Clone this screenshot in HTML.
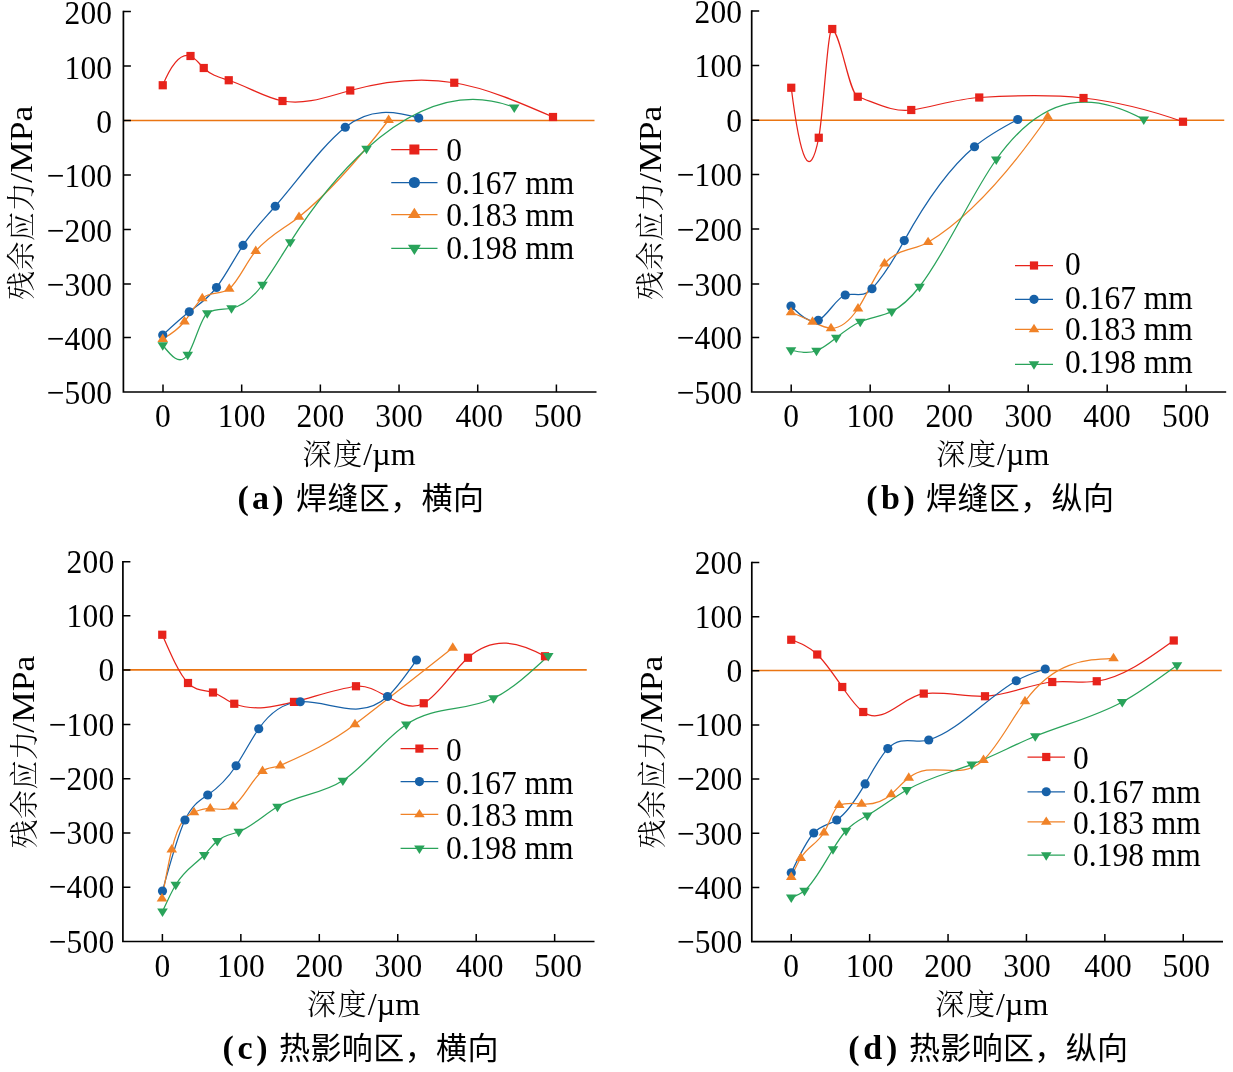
<!DOCTYPE html>
<html lang="zh"><head><meta charset="utf-8"><title>残余应力</title>
<style>
html,body{margin:0;padding:0;background:#fff;overflow:hidden}
svg{display:block;will-change:transform}
text{fill:#000}
.n{font-family:"Liberation Serif",serif;font-size:31.5px;letter-spacing:0.2px}
.tc{font-family:"Liberation Serif","Noto Serif CJK SC",serif;font-size:29px;font-weight:300;letter-spacing:0.5px}
.tcx{letter-spacing:1.6px}
.tl{font-family:"Liberation Serif",serif;font-size:32px}
.tl2{font-family:"Liberation Serif",serif;font-size:32px}
.c{font-size:31px}
.cb{font-family:"Liberation Serif",serif;font-weight:bold;font-size:34px}
.cc{font-family:"Liberation Sans","Noto Sans CJK SC",sans-serif;font-weight:400;font-size:31px}
</style></head><body>
<svg width="1233" height="1072" viewBox="0 0 1233 1072">
<rect width="1233" height="1072" fill="#fff"/>
<path d="M123.4 120.5H594.5" stroke="#ea7512" stroke-width="1.6" fill="none"/>
<path d="M162.75 85.25C172 63.05 181.25 52.61 190.5 56C194.92 57.62 199.33 63.73 203.75 68C212.08 76.05 220.42 77.54 228.75 80.25C246.67 86.08 264.58 97.59 282.5 101C305.08 105.3 327.67 96.72 350.25 90.5C384.92 80.95 419.58 76.94 454.25 82.75C487.17 88.27 520.08 102.63 553 117" stroke="#e7231b" stroke-width="1.25" fill="none"/>
<path d="M162.75 335C171.58 326.78 180.42 318.56 189.25 311.75C198.33 304.75 207.42 299.24 216.5 287.5C225.33 276.09 234.17 258.78 243 245.4C253.75 229.11 264.5 218.62 275.25 206.25C298.58 179.4 321.92 145.92 345.25 127.25C369.75 107.65 394.25 110.75 418.75 118.1" stroke="#1761a8" stroke-width="1.25" fill="none"/>
<path d="M162.75 339C170 334.8 177.25 330.61 184.5 321.5C190.42 314.07 196.33 303.36 202.25 298.25C211.25 290.48 220.25 295.67 229.25 288.75C238.08 281.96 246.92 261.16 255.75 251C270.17 234.42 284.58 228.43 299 216.9C328.87 193.01 358.73 158.95 388.6 120" stroke="#f08227" stroke-width="1.25" fill="none"/>
<path d="M162.75 345.25C171.08 355.79 179.42 366.33 187.75 354.75C194.25 345.72 200.75 317.8 207.25 313.25C215.33 307.59 223.42 309.87 231.5 308.25C241.83 306.18 252.17 298.71 262.5 284.75C271.75 272.25 281 256.66 290.25 242.1C315.67 202.11 341.08 171.62 366.5 148.75C415.75 104.43 465 87.8 514.25 107.5" stroke="#29a35a" stroke-width="1.25" fill="none"/>
<rect x="158.65" y="81.15" width="8.2" height="8.2" fill="#e7231b"/>
<rect x="186.4" y="51.9" width="8.2" height="8.2" fill="#e7231b"/>
<rect x="199.65" y="63.9" width="8.2" height="8.2" fill="#e7231b"/>
<rect x="224.65" y="76.15" width="8.2" height="8.2" fill="#e7231b"/>
<rect x="278.4" y="96.9" width="8.2" height="8.2" fill="#e7231b"/>
<rect x="346.15" y="86.4" width="8.2" height="8.2" fill="#e7231b"/>
<rect x="450.15" y="78.65" width="8.2" height="8.2" fill="#e7231b"/>
<rect x="548.9" y="112.9" width="8.2" height="8.2" fill="#e7231b"/>
<circle cx="162.75" cy="335" r="4.6" fill="#1761a8"/>
<circle cx="189.25" cy="311.75" r="4.6" fill="#1761a8"/>
<circle cx="216.5" cy="287.5" r="4.6" fill="#1761a8"/>
<circle cx="243" cy="245.4" r="4.6" fill="#1761a8"/>
<circle cx="275.25" cy="206.25" r="4.6" fill="#1761a8"/>
<circle cx="345.25" cy="127.25" r="4.6" fill="#1761a8"/>
<circle cx="418.75" cy="118.1" r="4.6" fill="#1761a8"/>
<path d="M162.75 333.5L168.05 341.9L157.45 341.9Z" fill="#f08227"/>
<path d="M184.5 316L189.8 324.4L179.2 324.4Z" fill="#f08227"/>
<path d="M202.25 292.75L207.55 301.15L196.95 301.15Z" fill="#f08227"/>
<path d="M229.25 283.25L234.55 291.65L223.95 291.65Z" fill="#f08227"/>
<path d="M255.75 245.5L261.05 253.9L250.45 253.9Z" fill="#f08227"/>
<path d="M299 211.4L304.3 219.8L293.7 219.8Z" fill="#f08227"/>
<path d="M388.6 114.5L393.9 122.9L383.3 122.9Z" fill="#f08227"/>
<path d="M162.75 350.75L168.05 342.35L157.45 342.35Z" fill="#29a35a"/>
<path d="M187.75 360.25L193.05 351.85L182.45 351.85Z" fill="#29a35a"/>
<path d="M207.25 318.75L212.55 310.35L201.95 310.35Z" fill="#29a35a"/>
<path d="M231.5 313.75L236.8 305.35L226.2 305.35Z" fill="#29a35a"/>
<path d="M262.5 290.25L267.8 281.85L257.2 281.85Z" fill="#29a35a"/>
<path d="M290.25 247.6L295.55 239.2L284.95 239.2Z" fill="#29a35a"/>
<path d="M366.5 154.25L371.8 145.85L361.2 145.85Z" fill="#29a35a"/>
<path d="M514.25 113L519.55 104.6L508.95 104.6Z" fill="#29a35a"/>
<path d="M123.4 10.75V392H596.5" stroke="#000" stroke-width="1.7" fill="none" stroke-linejoin="miter"/>
<path d="M123.4 11.5h7.5M123.4 66.1h7.5M123.4 120.5h7.5M123.4 174.9h7.5M123.4 229.4h7.5M123.4 284h7.5M123.4 337.6h7.5M163 392v-7.5M241.68 392v-7.5M320.36 392v-7.5M399.04 392v-7.5M477.72 392v-7.5M556.4 392v-7.5" stroke="#000" stroke-width="1.5" fill="none"/>
<text transform="translate(112.3 23.9) scale(1 1.09)" text-anchor="end" class="n">200</text>
<text transform="translate(112.3 78.5) scale(1 1.09)" text-anchor="end" class="n">100</text>
<text transform="translate(112.3 132.9) scale(1 1.09)" text-anchor="end" class="n">0</text>
<text transform="translate(112.3 187.3) scale(1 1.09)" text-anchor="end" class="n">−100</text>
<text transform="translate(112.3 241.8) scale(1 1.09)" text-anchor="end" class="n">−200</text>
<text transform="translate(112.3 296.4) scale(1 1.09)" text-anchor="end" class="n">−300</text>
<text transform="translate(112.3 350) scale(1 1.09)" text-anchor="end" class="n">−400</text>
<text transform="translate(112.3 404.4) scale(1 1.09)" text-anchor="end" class="n">−500</text>
<text transform="translate(163.1 427.4) scale(1 1.09)" text-anchor="middle" class="n">0</text>
<text transform="translate(241.78 427.4) scale(1 1.09)" text-anchor="middle" class="n">100</text>
<text transform="translate(320.46 427.4) scale(1 1.09)" text-anchor="middle" class="n">200</text>
<text transform="translate(399.14 427.4) scale(1 1.09)" text-anchor="middle" class="n">300</text>
<text transform="translate(479.32 427.4) scale(1 1.09)" text-anchor="middle" class="n">400</text>
<text transform="translate(558 427.4) scale(1 1.09)" text-anchor="middle" class="n">500</text>
<text transform="translate(32.4 300) rotate(-90)" class="tc">残余应力</text>
<text transform="translate(32.3 182.7) rotate(-90) scale(1.11 1)" class="tl">/MPa</text>
<text x="302.55" y="464.5" class="tc tcx">深度</text>
<text x="363.35" y="465" class="tl2">/µm</text>
<text x="237.5" y="509" class="c"><tspan class="cb" textLength="46" lengthAdjust="spacing">(a)</tspan><tspan x="296" class="cc" textLength="188" lengthAdjust="spacing">焊缝区，横向</tspan></text>
<path d="M391.25 149.5H437.5" stroke="#e7231b" stroke-width="1.25"/>
<rect x="409.37" y="144.5" width="10" height="10" fill="#e7231b"/>
<text transform="translate(446.25 160.6) scale(1 1.09)" class="n">0</text>
<path d="M391.25 182.5H437.5" stroke="#1761a8" stroke-width="1.25"/>
<circle cx="414.38" cy="182.5" r="5.61" fill="#1761a8"/>
<text transform="translate(446.25 193.6) scale(1 1.09)" textLength="128.25" lengthAdjust="spacing" class="n">0.167 mm</text>
<path d="M391.25 214.5H437.5" stroke="#f08227" stroke-width="1.25"/>
<path d="M414.38 207.79L420.84 218.04L407.91 218.04Z" fill="#f08227"/>
<text transform="translate(446.25 225.6) scale(1 1.09)" textLength="128.25" lengthAdjust="spacing" class="n">0.183 mm</text>
<path d="M391.25 248.25H437.5" stroke="#29a35a" stroke-width="1.25"/>
<path d="M414.38 254.96L420.84 244.71L407.91 244.71Z" fill="#29a35a"/>
<text transform="translate(446.25 259.1) scale(1 1.09)" textLength="128.25" lengthAdjust="spacing" class="n">0.198 mm</text>
<path d="M751.7 120.25H1224.25" stroke="#ea7512" stroke-width="1.6" fill="none"/>
<path d="M791.25 87.75C800.42 161.08 809.58 183.58 818.75 137.75C823.25 115.25 827.75 26.5 832.25 29C840.75 33.72 849.25 93.85 857.75 96.75C875.58 102.83 893.42 112.72 911.25 110C933.92 106.54 956.58 98.89 979.25 97.5C1014 95.36 1048.75 94.2 1083.5 98C1116.67 101.62 1149.83 109.95 1183 121.75" stroke="#e7231b" stroke-width="1.25" fill="none"/>
<path d="M791 306C800.08 314.96 809.17 323.93 818.25 320.25C827.25 316.6 836.25 297.7 845.25 295C854.17 292.32 863.08 298.56 872 288.75C882.75 276.93 893.5 260.15 904.25 240.6C927.67 198.01 951.08 166.41 974.5 146.75C988.92 134.65 1003.33 127.07 1017.75 119.5" stroke="#1761a8" stroke-width="1.25" fill="none"/>
<path d="M791 312.25C798.17 315.26 805.33 318.27 812.5 321.75C818.67 324.74 824.83 328.08 831 328.25C840 328.49 849 321.97 858 308.5C866.83 295.28 875.67 273.22 884.5 263.5C899.03 247.51 913.57 250.92 928.1 242.2C967.98 218.27 1007.87 174.04 1047.75 116.75" stroke="#f08227" stroke-width="1.25" fill="none"/>
<path d="M791 350.25C799.5 352.06 808 353.87 816.5 350.75C823.08 348.33 829.67 342.96 836.25 337.75C844.25 331.42 852.25 325.32 860.25 321.75C870.75 317.06 881.25 316.71 891.75 311.5C901 306.91 910.25 298.53 919.5 286.75C945.08 254.16 970.67 195.49 996.25 159.5C1045.42 90.33 1094.58 92.46 1143.75 119.5" stroke="#29a35a" stroke-width="1.25" fill="none"/>
<rect x="787.15" y="83.65" width="8.2" height="8.2" fill="#e7231b"/>
<rect x="814.65" y="133.65" width="8.2" height="8.2" fill="#e7231b"/>
<rect x="828.15" y="24.9" width="8.2" height="8.2" fill="#e7231b"/>
<rect x="853.65" y="92.65" width="8.2" height="8.2" fill="#e7231b"/>
<rect x="907.15" y="105.9" width="8.2" height="8.2" fill="#e7231b"/>
<rect x="975.15" y="93.4" width="8.2" height="8.2" fill="#e7231b"/>
<rect x="1079.4" y="93.9" width="8.2" height="8.2" fill="#e7231b"/>
<rect x="1178.9" y="117.65" width="8.2" height="8.2" fill="#e7231b"/>
<circle cx="791" cy="306" r="4.6" fill="#1761a8"/>
<circle cx="818.25" cy="320.25" r="4.6" fill="#1761a8"/>
<circle cx="845.25" cy="295" r="4.6" fill="#1761a8"/>
<circle cx="872" cy="288.75" r="4.6" fill="#1761a8"/>
<circle cx="904.25" cy="240.6" r="4.6" fill="#1761a8"/>
<circle cx="974.5" cy="146.75" r="4.6" fill="#1761a8"/>
<circle cx="1017.75" cy="119.5" r="4.6" fill="#1761a8"/>
<path d="M791 306.75L796.3 315.15L785.7 315.15Z" fill="#f08227"/>
<path d="M812.5 316.25L817.8 324.65L807.2 324.65Z" fill="#f08227"/>
<path d="M831 322.75L836.3 331.15L825.7 331.15Z" fill="#f08227"/>
<path d="M858 303L863.3 311.4L852.7 311.4Z" fill="#f08227"/>
<path d="M884.5 258L889.8 266.4L879.2 266.4Z" fill="#f08227"/>
<path d="M928.1 236.7L933.4 245.1L922.8 245.1Z" fill="#f08227"/>
<path d="M1047.75 111.25L1053.05 119.65L1042.45 119.65Z" fill="#f08227"/>
<path d="M791 355.75L796.3 347.35L785.7 347.35Z" fill="#29a35a"/>
<path d="M816.5 356.25L821.8 347.85L811.2 347.85Z" fill="#29a35a"/>
<path d="M836.25 343.25L841.55 334.85L830.95 334.85Z" fill="#29a35a"/>
<path d="M860.25 327.25L865.55 318.85L854.95 318.85Z" fill="#29a35a"/>
<path d="M891.75 317L897.05 308.6L886.45 308.6Z" fill="#29a35a"/>
<path d="M919.5 292.25L924.8 283.85L914.2 283.85Z" fill="#29a35a"/>
<path d="M996.25 165L1001.55 156.6L990.95 156.6Z" fill="#29a35a"/>
<path d="M1143.75 125L1149.05 116.6L1138.45 116.6Z" fill="#29a35a"/>
<path d="M751.7 10.25V392H1226.2" stroke="#000" stroke-width="1.7" fill="none" stroke-linejoin="miter"/>
<path d="M751.7 11h7.5M751.7 65.5h7.5M751.7 120.25h7.5M751.7 174.4h7.5M751.7 229.1h7.5M751.7 284h7.5M751.7 337.4h7.5M791.2 392v-7.5M870.2 392v-7.5M949.2 392v-7.5M1028.2 392v-7.5M1107.2 392v-7.5M1186.2 392v-7.5" stroke="#000" stroke-width="1.5" fill="none"/>
<text transform="translate(742.3 22.8) scale(1 1.09)" text-anchor="end" class="n">200</text>
<text transform="translate(742.3 77.3) scale(1 1.09)" text-anchor="end" class="n">100</text>
<text transform="translate(742.3 132.05) scale(1 1.09)" text-anchor="end" class="n">0</text>
<text transform="translate(742.3 186.2) scale(1 1.09)" text-anchor="end" class="n">−100</text>
<text transform="translate(742.3 240.9) scale(1 1.09)" text-anchor="end" class="n">−200</text>
<text transform="translate(742.3 295.8) scale(1 1.09)" text-anchor="end" class="n">−300</text>
<text transform="translate(742.3 349.2) scale(1 1.09)" text-anchor="end" class="n">−400</text>
<text transform="translate(742.3 403.8) scale(1 1.09)" text-anchor="end" class="n">−500</text>
<text transform="translate(791.3 427.4) scale(1 1.09)" text-anchor="middle" class="n">0</text>
<text transform="translate(870.3 427.4) scale(1 1.09)" text-anchor="middle" class="n">100</text>
<text transform="translate(949.3 427.4) scale(1 1.09)" text-anchor="middle" class="n">200</text>
<text transform="translate(1028.3 427.4) scale(1 1.09)" text-anchor="middle" class="n">300</text>
<text transform="translate(1107.1 427.4) scale(1 1.09)" text-anchor="middle" class="n">400</text>
<text transform="translate(1185.9 427.4) scale(1 1.09)" text-anchor="middle" class="n">500</text>
<text transform="translate(660.9 300) rotate(-90)" class="tc">残余应力</text>
<text transform="translate(660.65 182.7) rotate(-90) scale(1.11 1)" class="tl">/MPa</text>
<text x="936.3" y="464.5" class="tc tcx">深度</text>
<text x="997.1" y="465" class="tl2">/µm</text>
<text x="866.3" y="509" class="c"><tspan class="cb" textLength="48.5" lengthAdjust="spacing">(b)</tspan><tspan x="926" class="cc" textLength="188" lengthAdjust="spacing">焊缝区，纵向</tspan></text>
<path d="M1015 265.5H1053" stroke="#e7231b" stroke-width="1.25"/>
<rect x="1029.9" y="261.4" width="8.2" height="8.2" fill="#e7231b"/>
<text transform="translate(1065 275.1) scale(1 1.09)" class="n">0</text>
<path d="M1015 299.3H1053" stroke="#1761a8" stroke-width="1.25"/>
<circle cx="1034" cy="299.3" r="4.6" fill="#1761a8"/>
<text transform="translate(1065 309.35) scale(1 1.09)" textLength="128" lengthAdjust="spacing" class="n">0.167 mm</text>
<path d="M1015 329.3H1053" stroke="#f08227" stroke-width="1.25"/>
<path d="M1034 323.8L1039.3 332.2L1028.7 332.2Z" fill="#f08227"/>
<text transform="translate(1065 339.85) scale(1 1.09)" textLength="128" lengthAdjust="spacing" class="n">0.183 mm</text>
<path d="M1015 364.25H1053" stroke="#29a35a" stroke-width="1.25"/>
<path d="M1034 369.75L1039.3 361.35L1028.7 361.35Z" fill="#29a35a"/>
<text transform="translate(1065 373.1) scale(1 1.09)" textLength="128" lengthAdjust="spacing" class="n">0.198 mm</text>
<path d="M122.9 669.9H586.75" stroke="#ea7512" stroke-width="1.6" fill="none"/>
<path d="M162.25 634.75C170.83 654.47 179.42 674.18 188 683C196.33 691.56 204.67 689.85 213 692.5C220.08 694.75 227.17 701.06 234.25 703.75C254.17 711.32 274.08 706.88 294 701.9C314.67 696.73 335.33 689.35 356 686.25C378.58 682.86 401.17 715.87 423.75 703.25C438.5 695.01 453.25 670.86 468 657.75C493.67 634.95 519.33 642.13 545 656.25" stroke="#e7231b" stroke-width="1.25" fill="none"/>
<path d="M162.5 891C170 863.39 177.5 835.77 185 820C192.58 804.05 200.17 800.21 207.75 795C217.2 788.51 226.65 779.91 236.1 765.75C243.65 754.44 251.2 739.58 258.75 728.75C272.58 708.91 286.42 702.59 300.25 701.75C329.33 699.98 358.42 722.4 387.5 696.5C397.17 687.89 406.83 673.95 416.5 660" stroke="#1761a8" stroke-width="1.25" fill="none"/>
<path d="M162 898.5C165.25 880.54 168.5 862.57 171.75 849.5C179.17 819.67 186.58 815.32 194 812.25C199.42 810.01 204.83 808.46 210.25 808.5C217.83 808.56 225.42 811.73 233 806.5C242.83 799.72 252.67 778.38 262.5 771C268.42 766.56 274.33 768.16 280.25 765.5C305.17 754.29 330.08 743.36 355 724.25C387.58 699.26 420.17 673.5 452.75 647.75" stroke="#f08227" stroke-width="1.25" fill="none"/>
<path d="M162.5 911.5C166.92 901.76 171.33 892.01 175.75 884.75C185.25 869.13 194.75 864.98 204.25 855C208.58 850.45 212.92 844.69 217.25 841C224.42 834.9 231.58 834.49 238.75 831.75C251.67 826.82 264.58 814.36 277.5 806.75C299.3 793.91 321.1 794.87 342.9 780.6C364.02 766.78 385.13 738.65 406.25 724.5C435.33 705.01 464.42 712.01 493.5 698.25C511.75 689.62 530 672.81 548.25 656" stroke="#29a35a" stroke-width="1.25" fill="none"/>
<rect x="158.15" y="630.65" width="8.2" height="8.2" fill="#e7231b"/>
<rect x="183.9" y="678.9" width="8.2" height="8.2" fill="#e7231b"/>
<rect x="208.9" y="688.4" width="8.2" height="8.2" fill="#e7231b"/>
<rect x="230.15" y="699.65" width="8.2" height="8.2" fill="#e7231b"/>
<rect x="289.9" y="697.8" width="8.2" height="8.2" fill="#e7231b"/>
<rect x="351.9" y="682.15" width="8.2" height="8.2" fill="#e7231b"/>
<rect x="419.65" y="699.15" width="8.2" height="8.2" fill="#e7231b"/>
<rect x="463.9" y="653.65" width="8.2" height="8.2" fill="#e7231b"/>
<rect x="540.9" y="652.15" width="8.2" height="8.2" fill="#e7231b"/>
<circle cx="162.5" cy="891" r="4.6" fill="#1761a8"/>
<circle cx="185" cy="820" r="4.6" fill="#1761a8"/>
<circle cx="207.75" cy="795" r="4.6" fill="#1761a8"/>
<circle cx="236.1" cy="765.75" r="4.6" fill="#1761a8"/>
<circle cx="258.75" cy="728.75" r="4.6" fill="#1761a8"/>
<circle cx="300.25" cy="701.75" r="4.6" fill="#1761a8"/>
<circle cx="387.5" cy="696.5" r="4.6" fill="#1761a8"/>
<circle cx="416.5" cy="660" r="4.6" fill="#1761a8"/>
<path d="M162 893L167.3 901.4L156.7 901.4Z" fill="#f08227"/>
<path d="M171.75 844L177.05 852.4L166.45 852.4Z" fill="#f08227"/>
<path d="M194 806.75L199.3 815.15L188.7 815.15Z" fill="#f08227"/>
<path d="M210.25 803L215.55 811.4L204.95 811.4Z" fill="#f08227"/>
<path d="M233 801L238.3 809.4L227.7 809.4Z" fill="#f08227"/>
<path d="M262.5 765.5L267.8 773.9L257.2 773.9Z" fill="#f08227"/>
<path d="M280.25 760L285.55 768.4L274.95 768.4Z" fill="#f08227"/>
<path d="M355 718.75L360.3 727.15L349.7 727.15Z" fill="#f08227"/>
<path d="M452.75 642.25L458.05 650.65L447.45 650.65Z" fill="#f08227"/>
<path d="M162.5 917L167.8 908.6L157.2 908.6Z" fill="#29a35a"/>
<path d="M175.75 890.25L181.05 881.85L170.45 881.85Z" fill="#29a35a"/>
<path d="M204.25 860.5L209.55 852.1L198.95 852.1Z" fill="#29a35a"/>
<path d="M217.25 846.5L222.55 838.1L211.95 838.1Z" fill="#29a35a"/>
<path d="M238.75 837.25L244.05 828.85L233.45 828.85Z" fill="#29a35a"/>
<path d="M277.5 812.25L282.8 803.85L272.2 803.85Z" fill="#29a35a"/>
<path d="M342.9 786.1L348.2 777.7L337.6 777.7Z" fill="#29a35a"/>
<path d="M406.25 730L411.55 721.6L400.95 721.6Z" fill="#29a35a"/>
<path d="M493.5 703.75L498.8 695.35L488.2 695.35Z" fill="#29a35a"/>
<path d="M548.25 661.5L553.55 653.1L542.95 653.1Z" fill="#29a35a"/>
<path d="M122.9 561V941.5H594.5" stroke="#000" stroke-width="1.7" fill="none" stroke-linejoin="miter"/>
<path d="M122.9 561.75h7.5M122.9 615.75h7.5M122.9 670h7.5M122.9 724.4h7.5M122.9 778.75h7.5M122.9 833h7.5M122.9 887.25h7.5M162.4 941.5v-7.5M240.85 941.5v-7.5M319.3 941.5v-7.5M397.75 941.5v-7.5M476.2 941.5v-7.5M554.65 941.5v-7.5" stroke="#000" stroke-width="1.5" fill="none"/>
<text transform="translate(114.4 572.85) scale(1 1.09)" text-anchor="end" class="n">200</text>
<text transform="translate(114.4 626.85) scale(1 1.09)" text-anchor="end" class="n">100</text>
<text transform="translate(114.4 681.1) scale(1 1.09)" text-anchor="end" class="n">0</text>
<text transform="translate(114.4 735.5) scale(1 1.09)" text-anchor="end" class="n">−100</text>
<text transform="translate(114.4 789.85) scale(1 1.09)" text-anchor="end" class="n">−200</text>
<text transform="translate(114.4 844.1) scale(1 1.09)" text-anchor="end" class="n">−300</text>
<text transform="translate(114.4 898.35) scale(1 1.09)" text-anchor="end" class="n">−400</text>
<text transform="translate(114.4 952.6) scale(1 1.09)" text-anchor="end" class="n">−500</text>
<text transform="translate(162.5 976.9) scale(1 1.09)" text-anchor="middle" class="n">0</text>
<text transform="translate(240.95 976.9) scale(1 1.09)" text-anchor="middle" class="n">100</text>
<text transform="translate(319.4 976.9) scale(1 1.09)" text-anchor="middle" class="n">200</text>
<text transform="translate(398.45 976.9) scale(1 1.09)" text-anchor="middle" class="n">300</text>
<text transform="translate(479.8 976.9) scale(1 1.09)" text-anchor="middle" class="n">400</text>
<text transform="translate(558.25 976.9) scale(1 1.09)" text-anchor="middle" class="n">500</text>
<text transform="translate(34.6 848.5) rotate(-90)" class="tc">残余应力</text>
<text transform="translate(33.84 732.7) rotate(-90) scale(1.11 1)" class="tl">/MPa</text>
<text x="307" y="1014.5" class="tc tcx">深度</text>
<text x="367.8" y="1015" class="tl2">/µm</text>
<text x="222.5" y="1058.5" class="c"><tspan class="cb" textLength="45" lengthAdjust="spacing">(c)</tspan><tspan x="279" class="cc" textLength="219.5" lengthAdjust="spacing">热影响区，横向</tspan></text>
<path d="M400.6 748.6H438.25" stroke="#e7231b" stroke-width="1.25"/>
<rect x="415.32" y="744.5" width="8.2" height="8.2" fill="#e7231b"/>
<text transform="translate(446 760.6) scale(1 1.09)" class="n">0</text>
<path d="M400.6 781.6H438.25" stroke="#1761a8" stroke-width="1.25"/>
<circle cx="419.43" cy="781.6" r="4.6" fill="#1761a8"/>
<text transform="translate(446 793.6) scale(1 1.09)" textLength="127.75" lengthAdjust="spacing" class="n">0.167 mm</text>
<path d="M400.6 814.4H438.25" stroke="#f08227" stroke-width="1.25"/>
<path d="M419.43 808.9L424.73 817.3L414.12 817.3Z" fill="#f08227"/>
<text transform="translate(446 826.1) scale(1 1.09)" textLength="127.75" lengthAdjust="spacing" class="n">0.183 mm</text>
<path d="M400.6 848.4H438.25" stroke="#29a35a" stroke-width="1.25"/>
<path d="M419.43 853.9L424.73 845.5L414.12 845.5Z" fill="#29a35a"/>
<text transform="translate(446 859.1) scale(1 1.09)" textLength="127.75" lengthAdjust="spacing" class="n">0.198 mm</text>
<path d="M751.8 670.5H1221.75" stroke="#ea7512" stroke-width="1.6" fill="none"/>
<path d="M791.25 639.75C799.92 643.01 808.58 646.27 817.25 654.5C825.58 662.42 833.92 674.93 842.25 687C849.25 697.14 856.25 706.96 863.25 712C883.42 726.51 903.58 695.62 923.75 693.6C944.17 691.56 964.58 696.86 985 696.25C1007.42 695.58 1029.83 684.24 1052.25 682C1067.08 680.52 1081.92 683.37 1096.75 681.25C1122.42 677.58 1148.08 659.04 1173.75 640.5" stroke="#e7231b" stroke-width="1.25" fill="none"/>
<path d="M791.25 872.75C798.75 856.86 806.25 840.98 813.75 833C821.42 824.85 829.08 824.96 836.75 820C846.2 813.89 855.65 800.08 865.1 783.9C872.65 770.97 880.2 756.53 887.75 748.6C901.42 734.24 915.08 744.1 928.75 740C957.92 731.25 987.08 697.63 1016.25 680.75C1025.92 675.16 1035.58 672.08 1045.25 669" stroke="#1761a8" stroke-width="1.25" fill="none"/>
<path d="M791.25 877C794.42 870.02 797.58 863.04 800.75 858C808.5 845.66 816.25 844.91 824 832.5C829.08 824.36 834.17 806.78 839.25 805C846.7 802.39 854.15 803.15 861.6 803.9C871.48 804.89 881.37 802.96 891.25 794.25C897.08 789.11 902.92 782.24 908.75 777.75C933.67 758.58 958.58 782.89 983.5 760C997.33 747.29 1011.17 720.03 1025 701.25C1054.5 661.2 1084 659.73 1113.5 658.25" stroke="#f08227" stroke-width="1.25" fill="none"/>
<path d="M791.25 897.5C795.67 895.97 800.08 894.45 804.5 890.75C814 882.8 823.5 864.79 833 849.25C837.33 842.16 841.67 835.59 846 830.75C853.08 822.84 860.17 819.57 867.25 815.5C880.42 807.93 893.58 797.56 906.75 790C928.42 777.56 950.08 772.7 971.75 764.4C992.92 756.29 1014.08 744.9 1035.25 736.25C1064.25 724.4 1093.25 717.69 1122.25 702C1140.5 692.12 1158.75 678.69 1177 665.25" stroke="#29a35a" stroke-width="1.25" fill="none"/>
<rect x="787.15" y="635.65" width="8.2" height="8.2" fill="#e7231b"/>
<rect x="813.15" y="650.4" width="8.2" height="8.2" fill="#e7231b"/>
<rect x="838.15" y="682.9" width="8.2" height="8.2" fill="#e7231b"/>
<rect x="859.15" y="707.9" width="8.2" height="8.2" fill="#e7231b"/>
<rect x="919.65" y="689.5" width="8.2" height="8.2" fill="#e7231b"/>
<rect x="980.9" y="692.15" width="8.2" height="8.2" fill="#e7231b"/>
<rect x="1048.15" y="677.9" width="8.2" height="8.2" fill="#e7231b"/>
<rect x="1092.65" y="677.15" width="8.2" height="8.2" fill="#e7231b"/>
<rect x="1169.65" y="636.4" width="8.2" height="8.2" fill="#e7231b"/>
<circle cx="791.25" cy="872.75" r="4.6" fill="#1761a8"/>
<circle cx="813.75" cy="833" r="4.6" fill="#1761a8"/>
<circle cx="836.75" cy="820" r="4.6" fill="#1761a8"/>
<circle cx="865.1" cy="783.9" r="4.6" fill="#1761a8"/>
<circle cx="887.75" cy="748.6" r="4.6" fill="#1761a8"/>
<circle cx="928.75" cy="740" r="4.6" fill="#1761a8"/>
<circle cx="1016.25" cy="680.75" r="4.6" fill="#1761a8"/>
<circle cx="1045.25" cy="669" r="4.6" fill="#1761a8"/>
<path d="M791.25 871.5L796.55 879.9L785.95 879.9Z" fill="#f08227"/>
<path d="M800.75 852.5L806.05 860.9L795.45 860.9Z" fill="#f08227"/>
<path d="M824 827L829.3 835.4L818.7 835.4Z" fill="#f08227"/>
<path d="M839.25 799.5L844.55 807.9L833.95 807.9Z" fill="#f08227"/>
<path d="M861.6 798.4L866.9 806.8L856.3 806.8Z" fill="#f08227"/>
<path d="M891.25 788.75L896.55 797.15L885.95 797.15Z" fill="#f08227"/>
<path d="M908.75 772.25L914.05 780.65L903.45 780.65Z" fill="#f08227"/>
<path d="M983.5 754.5L988.8 762.9L978.2 762.9Z" fill="#f08227"/>
<path d="M1025 695.75L1030.3 704.15L1019.7 704.15Z" fill="#f08227"/>
<path d="M1113.5 652.75L1118.8 661.15L1108.2 661.15Z" fill="#f08227"/>
<path d="M791.25 903L796.55 894.6L785.95 894.6Z" fill="#29a35a"/>
<path d="M804.5 896.25L809.8 887.85L799.2 887.85Z" fill="#29a35a"/>
<path d="M833 854.75L838.3 846.35L827.7 846.35Z" fill="#29a35a"/>
<path d="M846 836.25L851.3 827.85L840.7 827.85Z" fill="#29a35a"/>
<path d="M867.25 821L872.55 812.6L861.95 812.6Z" fill="#29a35a"/>
<path d="M906.75 795.5L912.05 787.1L901.45 787.1Z" fill="#29a35a"/>
<path d="M971.75 769.9L977.05 761.5L966.45 761.5Z" fill="#29a35a"/>
<path d="M1035.25 741.75L1040.55 733.35L1029.95 733.35Z" fill="#29a35a"/>
<path d="M1122.25 707.5L1127.55 699.1L1116.95 699.1Z" fill="#29a35a"/>
<path d="M1177 670.75L1182.3 662.35L1171.7 662.35Z" fill="#29a35a"/>
<path d="M751.8 561.75V941.6H1223" stroke="#000" stroke-width="1.7" fill="none" stroke-linejoin="miter"/>
<path d="M751.8 562.5h7.5M751.8 616.75h7.5M751.8 670.75h7.5M751.8 725h7.5M751.8 779.1h7.5M751.8 833.25h7.5M751.8 887.5h7.5M791.25 941.6v-7.5M869.65 941.6v-7.5M948.05 941.6v-7.5M1026.45 941.6v-7.5M1104.85 941.6v-7.5M1183.25 941.6v-7.5" stroke="#000" stroke-width="1.5" fill="none"/>
<text transform="translate(742.5 573.8) scale(1 1.09)" text-anchor="end" class="n">200</text>
<text transform="translate(742.5 628.05) scale(1 1.09)" text-anchor="end" class="n">100</text>
<text transform="translate(742.5 682.05) scale(1 1.09)" text-anchor="end" class="n">0</text>
<text transform="translate(742.5 736.3) scale(1 1.09)" text-anchor="end" class="n">−100</text>
<text transform="translate(742.5 790.4) scale(1 1.09)" text-anchor="end" class="n">−200</text>
<text transform="translate(742.5 844.55) scale(1 1.09)" text-anchor="end" class="n">−300</text>
<text transform="translate(742.5 898.8) scale(1 1.09)" text-anchor="end" class="n">−400</text>
<text transform="translate(742.5 952.9) scale(1 1.09)" text-anchor="end" class="n">−500</text>
<text transform="translate(791.35 977) scale(1 1.09)" text-anchor="middle" class="n">0</text>
<text transform="translate(869.75 977) scale(1 1.09)" text-anchor="middle" class="n">100</text>
<text transform="translate(948.15 977) scale(1 1.09)" text-anchor="middle" class="n">200</text>
<text transform="translate(1027.15 977) scale(1 1.09)" text-anchor="middle" class="n">300</text>
<text transform="translate(1108.15 977) scale(1 1.09)" text-anchor="middle" class="n">400</text>
<text transform="translate(1186.35 977) scale(1 1.09)" text-anchor="middle" class="n">500</text>
<text transform="translate(662.6 848.5) rotate(-90)" class="tc">残余应力</text>
<text transform="translate(661.84 732.7) rotate(-90) scale(1.11 1)" class="tl">/MPa</text>
<text x="935.3" y="1014.5" class="tc tcx">深度</text>
<text x="996.1" y="1015" class="tl2">/µm</text>
<text x="848.3" y="1058.5" class="c"><tspan class="cb" textLength="49" lengthAdjust="spacing">(d)</tspan><tspan x="909" class="cc" textLength="219" lengthAdjust="spacing">热影响区，纵向</tspan></text>
<path d="M1027.5 757H1065" stroke="#e7231b" stroke-width="1.25"/>
<rect x="1042.15" y="752.9" width="8.2" height="8.2" fill="#e7231b"/>
<text transform="translate(1073 768.6) scale(1 1.09)" class="n">0</text>
<path d="M1027.5 791.75H1065" stroke="#1761a8" stroke-width="1.25"/>
<circle cx="1046.25" cy="791.75" r="4.6" fill="#1761a8"/>
<text transform="translate(1073 802.6) scale(1 1.09)" textLength="128" lengthAdjust="spacing" class="n">0.167 mm</text>
<path d="M1027.5 821.9H1065" stroke="#f08227" stroke-width="1.25"/>
<path d="M1046.25 816.4L1051.55 824.8L1040.95 824.8Z" fill="#f08227"/>
<text transform="translate(1073 833.6) scale(1 1.09)" textLength="128" lengthAdjust="spacing" class="n">0.183 mm</text>
<path d="M1027.5 855.2H1065" stroke="#29a35a" stroke-width="1.25"/>
<path d="M1046.25 860.7L1051.55 852.3L1040.95 852.3Z" fill="#29a35a"/>
<text transform="translate(1073 866.1) scale(1 1.09)" textLength="128" lengthAdjust="spacing" class="n">0.198 mm</text>
</svg>
</body></html>
